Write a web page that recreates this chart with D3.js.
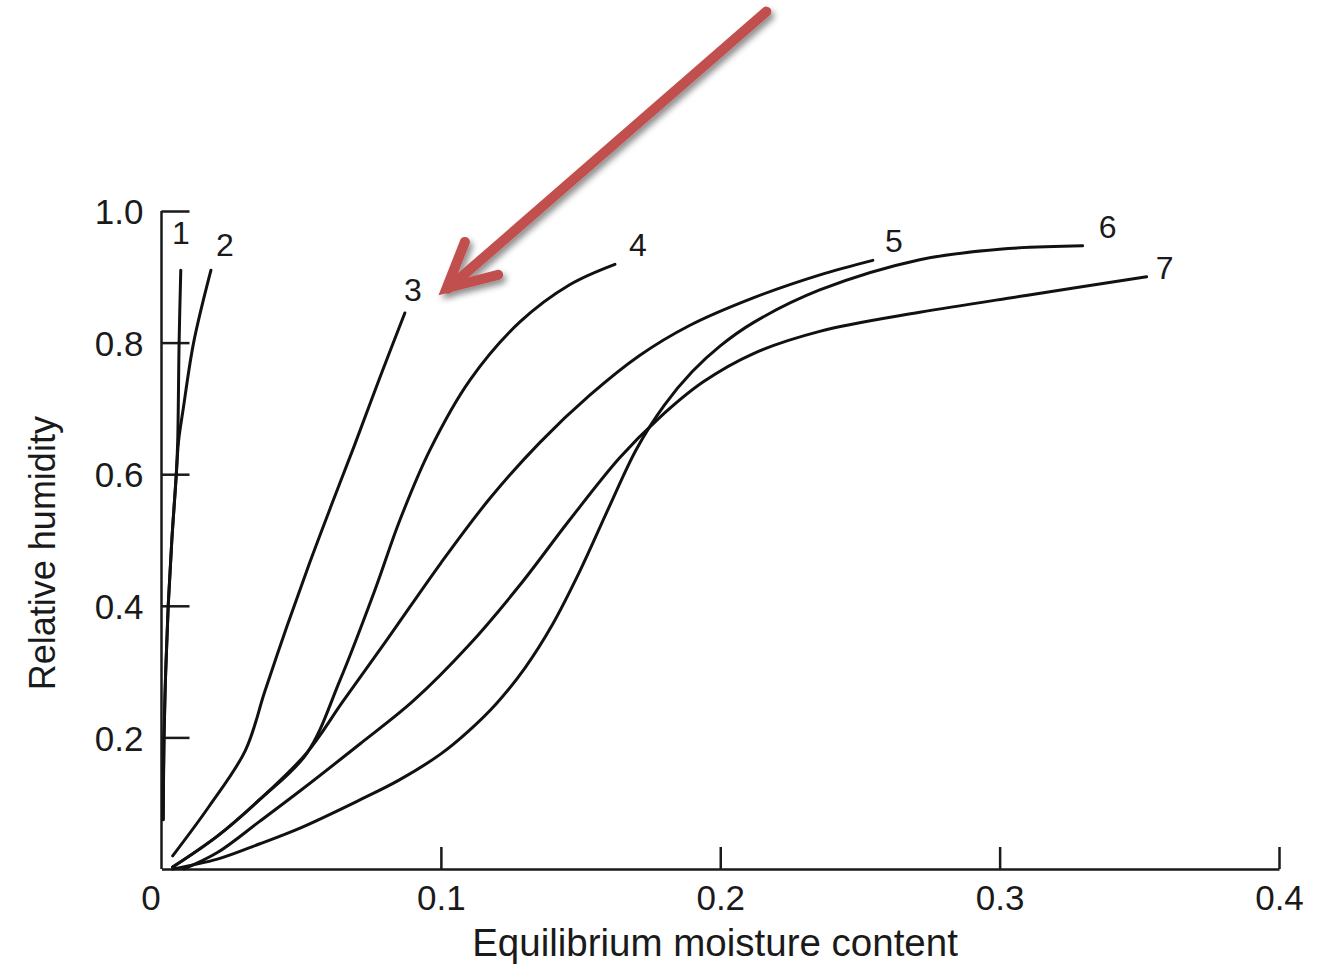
<!DOCTYPE html>
<html>
<head>
<meta charset="utf-8">
<script src="https://cdn.jsdelivr.net/npm/d3@7"></script>
<style>
  html, body { margin: 0; padding: 0; background: #fff; }
  svg text { font-family: "Liberation Sans", Arial, Helvetica, sans-serif; fill: #1a1a1a; }
</style>
</head>
<body>
<div id="chart"></div>
<script>
// sorption isotherms: [moisture content, relative humidity]
const curve1 = [[0.0006, 0.075], [0.0009, 0.2], [0.0015, 0.3], [0.0024, 0.4], [0.0037, 0.5],
  [0.0053, 0.6], [0.0058, 0.65], [0.006, 0.7], [0.0063, 0.8], [0.0069, 0.91]];
const curve2 = [[0.0006, 0.075], [0.0009, 0.2], [0.0015, 0.3], [0.0024, 0.4], [0.0037, 0.5],
  [0.0053, 0.6], [0.0061, 0.65], [0.0078, 0.7], [0.0115, 0.8], [0.0177, 0.91]];
const curve3 = [[0.004, 0.02], [0.017, 0.095], [0.03, 0.18], [0.037, 0.27], [0.045, 0.37],
  [0.053, 0.465], [0.061, 0.555], [0.069, 0.643], [0.078, 0.745], [0.0871, 0.845]];
const curve4 = [[0.004, 0.003], [0.02, 0.05], [0.035, 0.105], [0.0519, 0.175], [0.0639, 0.287],
  [0.0764, 0.424], [0.0853, 0.53], [0.0961, 0.637], [0.1104, 0.743], [0.1282, 0.831],
  [0.1461, 0.888], [0.1623, 0.919]];
const curve5 = [[0.004, 0.003], [0.02, 0.05], [0.035, 0.105], [0.0519, 0.176], [0.065, 0.255],
  [0.0818, 0.355], [0.1, 0.465], [0.1175, 0.563], [0.1354, 0.648], [0.1533, 0.72], [0.171, 0.78],
  [0.189, 0.826], [0.2118, 0.868], [0.2357, 0.903], [0.2546, 0.925]];
const curve6 = [[0.004, 0.0], [0.02, 0.015], [0.035, 0.038], [0.05, 0.063], [0.071, 0.105],
  [0.085, 0.135], [0.1, 0.175], [0.11, 0.21], [0.12, 0.252], [0.13, 0.305], [0.14, 0.372],
  [0.15, 0.455], [0.16, 0.548], [0.17, 0.638], [0.18, 0.705], [0.19, 0.756], [0.2, 0.795],
  [0.2117, 0.83], [0.2356, 0.88], [0.2714, 0.926], [0.30, 0.942], [0.3297, 0.947]];
const curve7 = [[0.008, 0.0], [0.02, 0.025], [0.035, 0.072], [0.05, 0.12], [0.071, 0.19],
  [0.09, 0.255], [0.11, 0.34], [0.128, 0.43], [0.146, 0.53], [0.164, 0.625], [0.178, 0.685],
  [0.1938, 0.74], [0.2117, 0.783], [0.2356, 0.817], [0.2714, 0.846], [0.31, 0.872], [0.3526, 0.9]];

const curveNames = ["1", "2", "3", "4", "5", "6", "7"];
const curves = [curve1, curve2, curve3, curve4, curve5, curve6, curve7];

const xTicks = [0, 0.1, 0.2, 0.3, 0.4];
const yTicks = [0.2, 0.4, 0.6, 0.8, 1.0];
const xTitle = "Equilibrium moisture content";
const yTitle = "Relative humidity";

// red arrow pointing at curve 3 (data units): tail, tip, two barbs
const arrowShaft = [[0.2165, 1.303], [0.1025, 0.882]];
const arrowHead = [[0.1086, 0.953], [0.1021, 0.883], [0.1205, 0.903]];

// label offsets (px) from each curve's end point
const labelOffset = [[0, -26], [14, -14], [8, -12], [23, -8], [21, -8], [25, -8], [18, 2]];

const width = 1325, height = 965;
const svg = d3.select("#chart").append("svg")
  .attr("width", width).attr("height", height)
  .style("background", "#fff");

const x = d3.scaleLinear().domain([0, 0.4]).range([161.5, 1279]);
const y = d3.scaleLinear().domain([0, 1]).range([869, 211]);

// y axis
const yAxis = svg.append("g")
  .attr("transform", `translate(${x(0)},0)`)
  .call(d3.axisLeft(y).tickValues(yTicks).tickFormat(d3.format(".1f"))
    .tickSizeInner(-28).tickSizeOuter(0).tickPadding(18));
yAxis.select(".domain").attr("stroke", "#1a1a1a").attr("stroke-width", 2.5)
  .attr("d", `M0,${y(1)}V${y(0)}`);
yAxis.selectAll(".tick line").attr("stroke", "#1a1a1a").attr("stroke-width", 2.5);
yAxis.selectAll(".tick text").style("font-size", "35px").attr("fill", "#1a1a1a").attr("dy", "0.36em");

// x axis
const xAxis = svg.append("g")
  .attr("transform", `translate(0,${y(0)})`)
  .call(d3.axisBottom(x).tickValues(xTicks).tickFormat(d => d === 0 ? "0" : d3.format(".1f")(d))
    .tickSizeInner(-22).tickSizeOuter(0).tickPadding(16));
xAxis.select(".domain").attr("stroke", "#1a1a1a").attr("stroke-width", 2.5);
xAxis.selectAll(".tick line").attr("stroke", "#1a1a1a").attr("stroke-width", 2.5)
  .filter(d => d === 0).remove();
xAxis.selectAll(".tick text").style("font-size", "35px").attr("fill", "#1a1a1a")
  .attr("dx", d => d === 0 ? -11 : 0);

// axis titles
svg.append("text")
  .attr("x", 715).attr("y", 956)
  .attr("text-anchor", "middle")
  .style("font-size", "38.5px")
  .text(xTitle);

svg.append("text")
  .attr("transform", `translate(55,${y(0.48)}) rotate(-90)`)
  .attr("text-anchor", "middle")
  .style("font-size", "36px")
  .text(yTitle);

// curves
const line = d3.line()
  .x(d => x(d[0])).y(d => y(d[1]))
  .curve(d3.curveCatmullRom.alpha(0.5));

svg.append("g").selectAll("path")
  .data(curves)
  .join("path")
  .attr("d", line)
  .attr("fill", "none")
  .attr("stroke", "#111")
  .attr("stroke-width", 3)
  .attr("stroke-linecap", "round");

// curve labels
svg.append("g").selectAll("text")
  .data(curves)
  .join("text")
  .attr("x", (d, i) => x(d[d.length - 1][0]) + labelOffset[i][0])
  .attr("y", (d, i) => y(d[d.length - 1][1]) + labelOffset[i][1])
  .attr("text-anchor", "middle")
  .style("font-size", "32px")
  .text((d, i) => curveNames[i]);

// arrow with drop shadow
const defs = svg.append("defs");
const shadow = defs.append("filter").attr("id", "arrow-shadow")
  .attr("x", "-20%").attr("y", "-20%").attr("width", "140%").attr("height", "140%");
shadow.append("feDropShadow")
  .attr("dx", 3).attr("dy", 4).attr("stdDeviation", 3)
  .attr("flood-color", "#000").attr("flood-opacity", 0.45);

const arrowLine = d3.line().x(d => x(d[0])).y(d => y(d[1]));
const arrow = svg.append("g").attr("filter", "url(#arrow-shadow)");
arrow.append("path")
  .attr("d", arrowLine(arrowShaft))
  .attr("fill", "none").attr("stroke", "#c0504d").attr("stroke-width", 10)
  .attr("stroke-linecap", "round");
arrow.append("path")
  .attr("d", arrowLine(arrowHead))
  .attr("fill", "none").attr("stroke", "#c0504d").attr("stroke-width", 10)
  .attr("stroke-linecap", "round").attr("stroke-linejoin", "miter");
</script>
</body>
</html>
